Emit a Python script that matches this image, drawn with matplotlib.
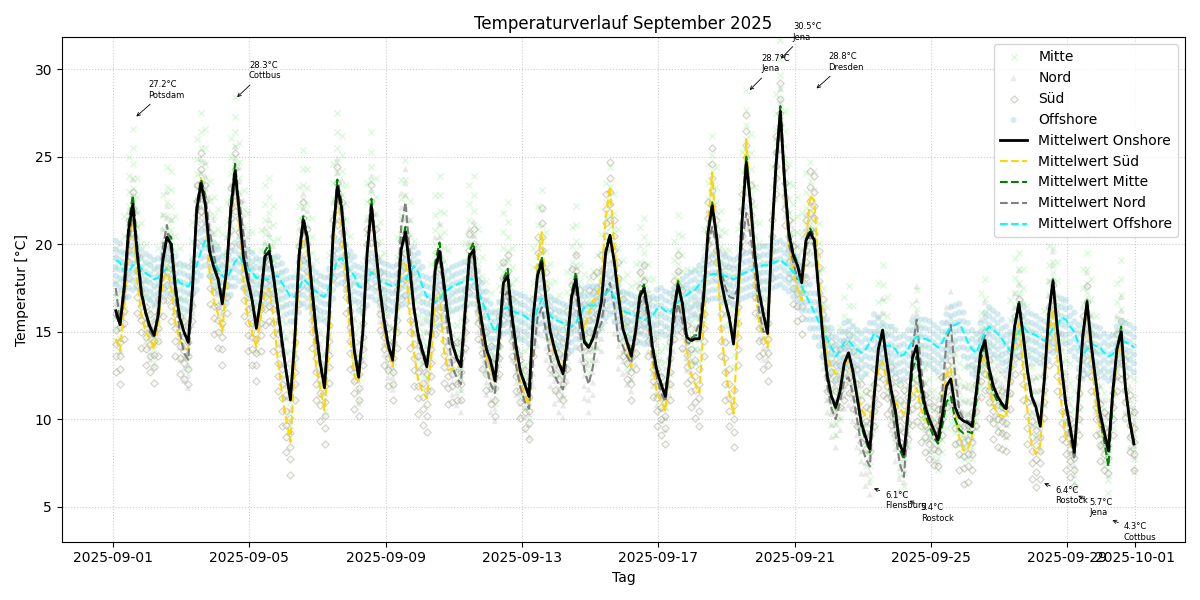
import datetime as dt
import numpy as np
import matplotlib
matplotlib.use("Agg")
import matplotlib.pyplot as plt
import matplotlib.dates as mdates

START = dt.datetime(2025, 9, 1)
N_DAYS = 30
HOURS_OF_DAY = [2, 5, 8, 11, 14, 17, 20, 23]

# Regional mean temperatures (°C), one row per day, values at HOURS_OF_DAY
ONSHORE = [
    16.2, 15.4, 17.6, 20.8, 22.3, 19.5, 17.2, 16.1,
    15.3, 14.8, 16.0, 19.0, 20.4, 20.0, 17.5, 15.8,
    15.0, 14.4, 17.5, 22.0, 23.5, 22.3, 19.6, 18.7,
    18.0, 16.6, 18.5, 22.0, 24.2, 21.8, 19.2, 17.9,
    16.8, 15.2, 16.8, 19.3, 19.6, 18.2, 16.4, 14.5,
    12.7, 11.1, 14.5, 19.3, 21.4, 20.3, 17.6, 15.2,
    13.2, 11.8, 15.5, 20.5, 23.3, 22.1, 19.5, 16.7,
    13.9, 12.4, 15.0, 19.5, 22.2, 19.8, 17.4, 15.6,
    14.2, 13.4, 16.5, 19.7, 20.7, 18.6, 16.3, 14.8,
    13.9, 13.0, 15.0, 18.6, 19.6, 17.8, 15.8, 14.3,
    13.5, 13.0, 16.2, 19.3, 19.7, 17.0, 15.4, 14.0,
    13.3, 12.2, 14.8, 17.8, 18.2, 15.9, 14.1, 12.7,
    12.0, 11.3, 15.9, 18.2, 19.0, 16.8, 15.0, 14.0,
    13.2, 12.6, 14.5, 17.0, 18.0, 16.0, 14.4, 14.1,
    14.6, 15.5, 16.7, 19.5, 20.5, 19.0, 17.0, 15.2,
    14.4, 13.6, 15.0, 17.0, 17.5, 16.1, 14.1, 12.8,
    12.0, 11.3, 13.3, 16.2, 17.7, 16.6, 14.7, 14.5,
    14.6, 14.6, 17.0, 20.6, 22.2, 20.5, 18.0, 16.8,
    15.8, 14.3, 17.0, 21.3, 24.7, 22.3, 19.4, 17.3,
    16.0, 14.9, 20.5, 24.6, 27.6, 23.6, 20.6, 19.4,
    18.8, 17.8, 20.2, 20.7, 20.2, 17.3, 14.7, 12.5,
    11.3, 10.7, 11.6, 13.2, 13.8, 12.8, 11.3, 9.8,
    9.0, 8.3, 11.3, 14.0, 15.1, 13.3, 11.7, 10.5,
    8.6, 8.0, 10.5, 13.5, 14.2, 12.0, 10.7, 10.0,
    9.4, 8.8, 10.2, 11.9, 12.3, 10.7, 10.1, 9.9,
    9.8, 9.6, 11.6, 13.8, 14.5, 12.9, 11.9, 11.3,
    10.9, 10.6, 13.0, 15.3, 16.6, 14.8, 12.8, 11.3,
    10.7, 9.6, 12.4, 16.0, 17.9, 15.2, 13.0, 10.9,
    9.6, 8.1, 11.5, 14.8, 16.7, 14.2, 12.3, 10.4,
    9.3, 8.2, 11.5, 14.0, 15.0, 11.8, 9.9, 8.6,
]

SUED = [
    14.6, 13.9, 16.5, 20.0, 21.6, 18.0, 16.0, 15.0,
    14.6, 14.0, 15.5, 17.8, 18.7, 17.5, 15.5, 14.5,
    14.2, 13.9, 17.5, 22.0, 23.8, 22.0, 18.5, 16.8,
    16.0, 15.0, 18.0, 21.8, 23.8, 21.0, 17.8, 15.8,
    15.0, 14.1, 15.8, 17.3, 17.5, 15.8, 13.5, 11.5,
    10.0, 8.7, 13.0, 18.5, 21.0, 19.5, 16.0, 13.0,
    11.8, 10.5, 14.0, 20.0, 23.0, 21.0, 18.0, 14.8,
    12.5, 12.1, 15.0, 19.5, 22.0, 19.5, 17.0, 15.0,
    13.8, 13.0, 16.0, 18.8, 19.0, 16.0, 13.8, 12.2,
    11.6, 11.2, 13.5, 16.8, 17.2, 14.0, 12.8, 12.9,
    13.0, 13.0, 16.0, 19.2, 19.5, 16.5, 14.8, 13.6,
    12.8, 12.1, 14.5, 17.6, 18.0, 15.5, 13.5, 12.0,
    11.4, 10.8, 15.5, 19.0, 20.7, 17.0, 14.8, 13.6,
    13.3, 13.0, 14.8, 17.2, 18.0, 16.0, 15.2, 16.0,
    16.8, 17.0, 18.0, 21.5, 23.3, 20.0, 17.6, 15.5,
    14.2, 13.0, 14.8, 17.0, 17.4, 15.5, 13.2, 11.5,
    11.0, 10.5, 13.0, 16.5, 18.0, 16.0, 14.0, 12.6,
    12.0, 11.5, 15.5, 21.0, 24.1, 20.0, 15.5, 13.0,
    11.5, 10.3, 15.0, 21.5, 26.0, 22.0, 18.0, 15.5,
    14.8, 14.1, 20.0, 24.8, 27.8, 23.0, 20.0, 18.5,
    17.5, 16.8, 20.0, 22.8, 22.5, 18.2, 15.5, 13.5,
    13.0, 12.6, 12.6, 13.0, 13.4, 12.5, 11.5, 10.6,
    10.2, 10.1, 11.5, 12.8, 13.3, 12.2, 11.6, 11.0,
    10.6, 10.3, 10.8, 11.6, 11.8, 10.6, 10.0, 9.6,
    9.3, 9.2, 11.0, 12.6, 12.9, 10.5, 9.0, 8.2,
    8.3, 9.0, 11.5, 13.2, 13.6, 12.0, 10.8, 10.3,
    10.2, 10.1, 12.5, 14.5, 15.5, 13.0, 10.5, 8.5,
    8.0, 8.5, 12.0, 15.0, 16.3, 13.5, 10.8, 9.0,
    8.6, 8.1, 11.0, 14.5, 16.2, 13.5, 11.0, 9.5,
    9.0, 8.8, 11.0, 13.5, 14.2, 12.0, 10.0, 9.0,
]

MITTE = [
    16.0, 15.4, 17.8, 21.2, 22.8, 20.0, 17.4, 16.2,
    15.2, 14.8, 16.0, 19.0, 20.6, 20.4, 17.8, 16.0,
    15.0, 14.4, 17.5, 22.2, 23.7, 22.8, 19.8, 18.9,
    18.2, 16.8, 18.6, 22.3, 24.6, 22.0, 19.3, 18.0,
    16.9, 15.3, 17.0, 19.6, 20.0, 18.4, 16.5, 14.6,
    12.8, 11.2, 14.6, 19.5, 21.6, 20.5, 17.7, 15.3,
    13.3, 12.0, 15.6, 20.8, 23.7, 22.4, 19.6, 16.7,
    14.0, 12.6, 15.1, 19.7, 22.6, 20.0, 17.5, 15.7,
    14.3, 13.5, 16.6, 19.9, 21.0, 18.7, 16.4, 14.9,
    14.0, 13.2, 15.1, 19.0, 20.1, 18.0, 15.9, 14.4,
    13.6, 13.1, 16.3, 19.6, 20.1, 17.1, 15.5, 14.1,
    13.4, 12.4, 14.9, 18.0, 18.6, 16.0, 14.2, 12.8,
    12.1, 11.5, 16.0, 18.4, 19.3, 16.9, 15.1, 14.1,
    13.3, 12.7, 14.6, 17.2, 18.4, 16.1, 14.5, 14.2,
    14.7, 15.6, 16.8, 19.7, 20.6, 19.1, 17.1, 15.3,
    14.5, 13.8, 15.1, 17.2, 17.7, 16.2, 14.2, 12.9,
    12.1, 11.5, 13.4, 16.4, 17.9, 16.7, 14.8, 14.6,
    14.8, 14.8, 17.1, 20.8, 22.4, 20.6, 18.1, 16.9,
    15.9, 14.5, 17.1, 21.5, 25.0, 22.5, 19.5, 17.4,
    16.1, 15.1, 20.6, 24.8, 27.9, 23.8, 20.8, 19.6,
    18.9, 18.0, 20.3, 20.9, 20.4, 17.4, 14.8, 12.6,
    11.2, 10.6, 11.5, 13.2, 13.8, 12.7, 11.2, 9.6,
    8.8, 8.1, 11.2, 14.0, 15.0, 13.2, 11.5, 10.2,
    8.3, 7.7, 10.0, 12.8, 13.6, 11.6, 10.3, 9.6,
    9.0, 8.6, 9.6, 11.0, 11.3, 10.0, 9.4, 9.2,
    9.3, 9.2, 11.0, 13.4, 14.2, 12.5, 11.5, 11.0,
    10.8, 10.5, 13.0, 15.4, 16.8, 14.8, 12.7, 11.2,
    10.6, 9.8, 12.4, 16.1, 18.0, 15.2, 12.9, 10.7,
    9.4, 7.9, 11.4, 14.8, 16.8, 14.2, 12.1, 10.1,
    8.8, 7.3, 11.0, 14.0, 15.3, 11.8, 9.8, 8.5,
]

NORD = [
    17.5, 15.5, 17.0, 20.0, 21.8, 20.0, 17.5, 16.0,
    15.0, 14.6, 16.5, 19.8, 21.1, 19.5, 17.0, 15.0,
    13.8, 13.4, 17.0, 21.5, 23.0, 22.8, 20.8, 19.5,
    18.0, 17.0, 18.5, 21.5, 23.7, 22.5, 20.6, 18.5,
    16.8, 15.5, 16.8, 19.0, 19.5, 18.0, 16.0, 14.0,
    12.8, 11.5, 14.5, 19.0, 21.0, 20.0, 17.0, 14.5,
    13.0, 11.8, 15.5, 20.5, 23.0, 21.8, 19.0, 16.0,
    13.8, 12.5, 15.0, 19.5, 22.0, 19.8, 17.2, 15.3,
    14.0, 13.3, 17.0, 21.0, 22.4, 19.5, 16.5, 14.5,
    13.6, 13.1, 15.0, 18.5, 19.3, 17.2, 14.8, 13.0,
    12.4, 12.0, 15.5, 19.0, 19.4, 16.6, 14.5, 13.0,
    12.0, 11.5, 14.0, 17.0, 17.3, 15.0, 13.0, 11.8,
    11.0, 10.6, 13.5, 15.8, 16.4, 15.0, 13.5, 12.5,
    12.0, 11.7, 13.8, 16.8, 17.6, 15.0, 12.8, 12.0,
    13.0, 15.0, 15.5, 17.2, 17.8, 16.5, 14.5, 14.2,
    13.6, 13.2, 14.8, 16.6, 17.0, 15.5, 13.5, 12.4,
    11.5, 11.0, 13.0, 15.5, 16.6, 15.6, 14.4, 14.3,
    14.9, 15.5, 17.5, 20.0, 21.0, 20.0, 18.6, 17.6,
    17.0, 16.9, 17.5, 20.0, 21.8, 20.5, 18.5, 16.2,
    15.0, 15.0, 20.0, 24.2, 27.0, 23.2, 20.0, 19.0,
    18.0, 18.5, 19.8, 20.5, 19.8, 17.5, 14.5, 12.0,
    10.6, 10.0, 11.0, 12.2, 12.4, 11.5, 10.0, 8.5,
    7.8, 7.3, 11.0, 14.0, 15.0, 13.0, 11.0, 9.2,
    7.5, 6.7, 10.0, 14.0, 15.7, 13.0, 11.0, 9.8,
    9.4, 9.2, 11.5, 14.5, 15.4, 12.6, 10.5, 10.0,
    9.9, 9.8, 11.5, 13.8, 14.8, 13.0, 11.8, 11.2,
    10.9, 10.6, 13.0, 15.3, 16.6, 14.8, 12.8, 11.3,
    10.5, 9.8, 12.4, 16.0, 17.7, 15.2, 13.0, 10.8,
    9.0, 7.7, 11.0, 14.5, 16.5, 14.0, 12.0, 10.0,
    9.2, 8.4, 11.5, 14.0, 15.1, 12.0, 10.0, 8.8,
]

OFFSHORE = [
    19.1, 18.95, 18.4, 18.4, 18.8, 18.9, 18.6, 18.35,
    18.2, 18.0, 18.1, 18.4, 18.6, 18.5, 18.2, 17.8,
    17.7, 17.6, 18.0, 18.8, 19.6, 20.2, 19.6, 19.0,
    18.6, 18.2, 18.0, 18.5, 19.0, 19.3, 18.9, 18.6,
    18.4, 18.1, 18.0, 18.0, 18.0, 18.1, 18.2, 17.8,
    17.4, 17.0, 17.0, 17.5, 18.0, 17.8, 17.5, 17.3,
    17.1, 17.0, 17.5, 18.3, 19.1, 19.2, 18.8, 18.5,
    18.2, 17.6, 17.5, 17.9, 18.4, 18.2, 17.9, 17.8,
    17.7, 17.6, 17.7, 17.9, 18.0, 18.4, 18.75, 18.4,
    17.6, 17.0, 16.9, 16.7, 16.8, 17.3, 17.4, 17.6,
    17.7, 17.8, 17.9, 18.0, 18.0, 17.4, 16.7, 16.2,
    15.5, 15.0, 15.6, 16.3, 16.4, 16.2, 16.1, 16.0,
    15.9, 15.7, 15.5, 16.3, 16.9, 16.4, 15.9, 15.7,
    15.6, 15.5, 15.4, 15.3, 15.5, 16.0, 16.4, 16.5,
    16.5, 16.5, 16.8, 17.2, 17.4, 17.0, 16.6, 16.2,
    16.1, 16.0, 15.9, 15.8, 15.7, 15.7, 15.9, 16.3,
    16.4, 16.2, 16.1, 16.4, 16.7, 16.9, 17.1, 17.3,
    17.4, 17.7, 18.0, 18.2, 18.3, 18.3, 18.3, 18.2,
    18.1, 18.0, 18.1, 18.3, 18.4, 18.5, 18.6, 18.7,
    18.8, 18.8, 18.9, 19.0, 19.1, 18.9, 18.7, 18.4,
    18.2, 17.6, 17.1, 16.6, 16.1, 15.6, 15.1, 14.6,
    14.1, 13.6, 13.9, 14.4, 14.5, 14.2, 14.0, 13.8,
    14.0, 14.4, 14.9, 14.7, 14.4, 14.2, 14.2, 14.0,
    13.6, 13.7, 14.0, 14.5, 14.7, 14.6, 14.6, 14.5,
    14.3, 14.1, 14.4, 14.9, 15.3, 15.4, 15.5, 15.0,
    14.4, 14.0, 13.8, 14.4, 15.0, 15.3, 15.1, 14.9,
    14.6, 14.2, 13.9, 14.5, 15.0, 15.3, 15.0, 14.9,
    14.8, 14.6, 14.5, 14.8, 15.2, 15.4, 15.8, 15.7,
    15.3, 15.0, 14.3, 13.7, 14.0, 14.3, 14.2, 14.1,
    13.8, 13.6, 13.7, 14.2, 14.5, 14.4, 14.3, 14.1,
]

# Station deviations from their regional mean (°C)
MITTE_STATION_OFFSETS = [-1.5, -0.8, -0.2, 0.4, 1.0, 1.8, 2.7, 3.8]
NORD_STATION_OFFSETS = [-1.6, -0.9, -0.3, 0.4, 1.1, 1.9]
SUED_STATION_OFFSETS = [-1.9, -1.0, -0.3, 0.5, 1.4]
OFFSHORE_STATION_OFFSETS = [-1.4, -0.9, -0.4, 0.1, 0.6, 1.1]

# Annotated station extremes: hours since START, value, station
ANNOT_HOURS = [15, 86, 447, 469, 494, 534, 559, 654, 678, 702]
ANNOT_VALUES = [27.2, 28.3, 28.7, 30.5, 28.8, 6.1, 5.4, 6.4, 5.7, 4.3]
ANNOT_STATIONS = ["Potsdam", "Cottbus", "Jena", "Jena", "Dresden",
                  "Flensburg", "Rostock", "Rostock", "Jena", "Cottbus"]
ANNOT_IS_MAX = [True, True, True, True, True, False, False, False, False, False]

times = [START + dt.timedelta(days=d, hours=h)
         for d in range(N_DAYS) for h in HOURS_OF_DAY]
tnum = mdates.date2num(times)

fig, ax = plt.subplots(figsize=(12, 6), dpi=100)


def scatter_region(vals, offsets, **kw):
    x = np.tile(tnum, len(offsets))
    y = np.concatenate([np.asarray(vals) + o for o in offsets])
    return ax.scatter(x, y, **kw)


h_m = scatter_region(MITTE, MITTE_STATION_OFFSETS, marker="x", color="lightgreen",
                     alpha=0.3, s=20, linewidths=1.0, label="Mitte")
h_n = scatter_region(NORD, NORD_STATION_OFFSETS, marker="^", color="darkgray",
                     alpha=0.25, s=20, edgecolors="none", label="Nord")
h_s = scatter_region(SUED, SUED_STATION_OFFSETS, marker="D", facecolors="beige",
                     edgecolors="gray", alpha=0.35, s=14, linewidths=0.8, label="Süd")
h_o = scatter_region(OFFSHORE, OFFSHORE_STATION_OFFSETS, marker="o", color="lightblue",
                     alpha=0.5, s=20, edgecolors="none", label="Offshore")

l_on, = ax.plot(tnum, ONSHORE, color="black", lw=2, label="Mittelwert Onshore", zorder=6)
l_s, = ax.plot(tnum, SUED, color="gold", ls="--", lw=1.5, label="Mittelwert Süd", zorder=4)
l_m, = ax.plot(tnum, MITTE, color="green", ls="--", lw=1.5, label="Mittelwert Mitte", zorder=4)
l_n, = ax.plot(tnum, NORD, color="gray", ls="--", lw=1.5, label="Mittelwert Nord", zorder=4)
l_o, = ax.plot(tnum, OFFSHORE, color="cyan", ls="--", lw=1.5, label="Mittelwert Offshore", zorder=4)

t0 = mdates.date2num(START)
for h, v, name, is_max in zip(ANNOT_HOURS, ANNOT_VALUES, ANNOT_STATIONS, ANNOT_IS_MAX):
    ax.annotate(f"{v:.1f}°C\n{name}", xy=(t0 + h / 24.0, v),
                xytext=(10, 15 if is_max else -15), textcoords="offset points",
                fontsize=6, arrowprops=dict(arrowstyle="->", color="black", lw=0.6),
                zorder=7)

ax.xaxis.set_major_locator(mdates.DayLocator(bymonthday=[1, 5, 9, 13, 17, 21, 25, 29]))
ax.xaxis.set_major_formatter(mdates.DateFormatter("%Y-%m-%d"))
ax.set_xlim(t0 - 35.95 / 24.0, t0 + (719 + 35.95) / 24.0)
ax.set_ylim(3.0, 31.83)
ax.set_yticks([5, 10, 15, 20, 25, 30])

ax.grid(True, linestyle=":", alpha=0.6)
ax.set_title("Temperaturverlauf September 2025")
ax.set_xlabel("Tag")
ax.set_ylabel("Temperatur [°C]")
ax.legend(handles=[h_m, h_n, h_s, h_o, l_on, l_s, l_m, l_n, l_o], loc="upper right")

fig.tight_layout()
fig.savefig("out.png", dpi=100)
